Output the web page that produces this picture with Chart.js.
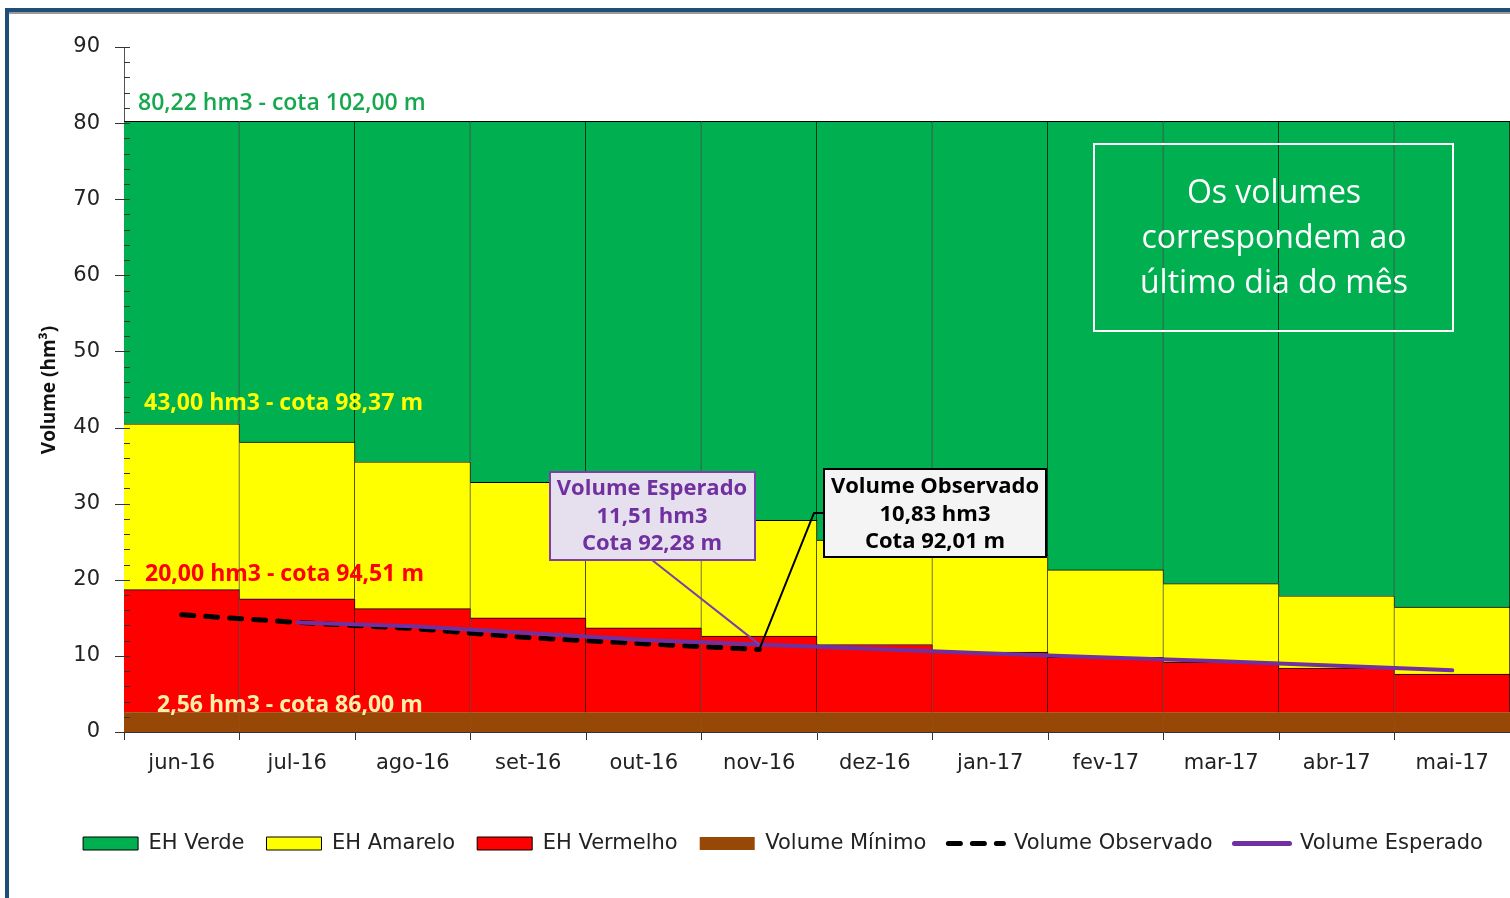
<!DOCTYPE html>
<html>
<head>
<meta charset="utf-8">
<script src="https://cdn.jsdelivr.net/npm/chart.js@4.4.1/dist/chart.umd.min.js"></script>
<style>
  html, body { margin: 0; padding: 0; background: #fff; overflow: hidden; }
</style>
</head>
<body>
<canvas id="grafico" width="1510" height="898"></canvas>
<script>
// meses
const meses = ['jun-16', 'jul-16', 'ago-16', 'set-16', 'out-16', 'nov-16', 'dez-16', 'jan-17', 'fev-17', 'mar-17', 'abr-17', 'mai-17'];
// limites das zonas (topo de cada faixa, hm3)
const volumeMinimo = [2.56, 2.56, 2.56, 2.56, 2.56, 2.56, 2.56, 2.56, 2.56, 2.56, 2.56, 2.56];
const topoVermelho = [18.7, 17.5, 16.2, 15.0, 13.7, 12.6, 11.5, 10.5, 9.8, 9.2, 8.4, 7.6];
const topoAmarelo = [40.5, 38.1, 35.5, 32.8, 30.2, 27.8, 25.2, 23.2, 21.3, 19.5, 17.9, 16.4];
const topoVerde = [80.22, 80.22, 80.22, 80.22, 80.22, 80.22, 80.22, 80.22, 80.22, 80.22, 80.22, 80.22];
// volumes
const volumeObservado = [15.4, 14.4, 13.6, 12.4, 11.6, 10.83, null, null, null, null, null, null];
const volumeEsperado = [null, 14.4, 13.9, 13.0, 12.1, 11.51, 10.9, 10.3, 9.8, 9.3, 8.7, 8.1];
// eixo y
const yMin = 0, yMax = 90, yPasso = 10, yMenor = 2;

const faixaVermelho = topoVermelho.map((v, i) => +(v - volumeMinimo[i]).toFixed(2));
const faixaAmarelo = topoAmarelo.map((v, i) => +(v - topoVermelho[i]).toFixed(2));
const faixaVerde = topoVerde.map((v, i) => +(v - topoAmarelo[i]).toFixed(2));

const barra = { type: 'bar', stack: 'zonas', barPercentage: 1, categoryPercentage: 1,
  borderColor: '#000', borderSkipped: false, borderWidth: { top: 1, right: 1, bottom: 0, left: 0 } };

const ordemLegenda = [3, 2, 1, 0, 4, 5];

const anotacoes = {
  id: 'anotacoes',
  afterDatasetsDraw(chart) {
    const { ctx, chartArea: a, scales: { y } } = chart;
    // marcas do eixo y
    ctx.save();
    ctx.strokeStyle = '#333';
    ctx.lineWidth = 1;
    for (let v = yMin; v <= yMax; v += yMenor) {
      const py = Math.round(y.getPixelForValue(v)) + 0.5;
      ctx.beginPath();
      ctx.moveTo(v % yPasso === 0 ? a.left - 9 : a.left, py);
      ctx.lineTo(a.left + 6, py);
      ctx.stroke();
    }
    ctx.restore();
  },
  afterDraw(chart) {
    const { ctx, chartArea: a, scales: { x, y } } = chart;
    ctx.save();
    ctx.textBaseline = 'middle';
    ctx.textAlign = 'left';

    ctx.font = '600 23px "Open Sans"';
    ctx.fillStyle = '#16a84e';
    ctx.fillText('80,22 hm3 - cota 102,00 m', a.left + 14, y.getPixelForValue(80.22) - 18);
    ctx.font = 'bold 23px "Open Sans"';
    ctx.fillStyle = '#ffff00';
    ctx.fillText('43,00 hm3 - cota 98,37 m', a.left + 20, y.getPixelForValue(43) - 1);
    ctx.fillStyle = '#ff0000';
    ctx.fillText('20,00 hm3 - cota 94,51 m', a.left + 21, y.getPixelForValue(20) - 5);
    ctx.fillStyle = '#fff0a8';
    ctx.fillText('2,56 hm3 - cota 86,00 m', a.left + 33, y.getPixelForValue(2.56) - 7);

    // título do eixo y
    ctx.save();
    ctx.translate(50, 390);
    ctx.rotate(-Math.PI / 2);
    ctx.textAlign = 'center';
    ctx.fillStyle = '#111';
    ctx.font = 'bold 19px "Open Sans"';
    ctx.fillText('Volume (hm³)', 0, 0);
    ctx.restore();

    // caixa de aviso
    ctx.strokeStyle = '#fff';
    ctx.lineWidth = 2;
    ctx.strokeRect(1094, 144, 359, 187);
    ctx.fillStyle = '#fff';
    ctx.textAlign = 'center';
    ctx.font = '32px "Open Sans"';
    ['Os volumes', 'correspondem ao', 'último dia do mês'].forEach((t, i) => ctx.fillText(t, 1274, 194 + i * 45));

    // chamada volume esperado
    const nx = x.getPixelForValue(5);
    ctx.strokeStyle = '#7a3fa8';
    ctx.lineWidth = 2;
    ctx.beginPath();
    ctx.moveTo(652, 560);
    ctx.lineTo(nx, y.getPixelForValue(volumeEsperado[5]));
    ctx.stroke();
    ctx.fillStyle = '#e6e0ee';
    ctx.fillRect(550, 472, 205, 88);
    ctx.strokeRect(550, 472, 205, 88);
    ctx.fillStyle = '#7030a0';
    ctx.font = 'bold 22px "Open Sans"';
    ['Volume Esperado', '11,51 hm3', 'Cota 92,28 m'].forEach((t, i) => ctx.fillText(t, 652, 489 + i * 27.5));

    // chamada volume observado
    ctx.strokeStyle = '#000';
    ctx.lineWidth = 2;
    ctx.beginPath();
    ctx.moveTo(nx, y.getPixelForValue(volumeObservado[5]));
    ctx.lineTo(814, 513);
    ctx.lineTo(824, 513);
    ctx.stroke();
    ctx.fillStyle = '#f4f4f4';
    ctx.fillRect(824, 469, 222, 88);
    ctx.strokeRect(824, 469, 222, 88);
    ctx.fillStyle = '#000';
    ['Volume Observado', '10,83 hm3', 'Cota 92,01 m'].forEach((t, i) => ctx.fillText(t, 935, 487 + i * 27.5));

    // moldura
    ctx.fillStyle = '#1f4e79';
    ctx.fillRect(5, 8, 1505, 4);
    ctx.fillRect(5, 8, 4, 890);
    ctx.fillStyle = '#9a9a9a';
    ctx.fillRect(9, 12, 1501, 2);
    ctx.restore();
  }
};

new Chart(document.getElementById('grafico'), {
  data: {
    labels: meses,
    datasets: [
      { ...barra, label: 'Volume Mínimo', data: volumeMinimo, backgroundColor: '#974806', borderWidth: 0, order: 2 },
      { ...barra, label: 'EH Vermelho', data: faixaVermelho, backgroundColor: '#ff0000', order: 3 },
      { ...barra, label: 'EH Amarelo', data: faixaAmarelo, backgroundColor: '#ffff00', order: 4 },
      { ...barra, label: 'EH Verde', data: faixaVerde, backgroundColor: '#00b050', order: 5 },
      { type: 'line', label: 'Volume Observado', data: volumeObservado, stack: 'obs', borderColor: '#000',
        borderWidth: 5, borderDash: [12, 12], borderCapStyle: 'round', pointRadius: 0, order: 1 },
      { type: 'line', label: 'Volume Esperado', data: volumeEsperado, stack: 'esp', borderColor: '#7030a0',
        borderWidth: 4, borderCapStyle: 'round', pointRadius: 0, order: 0 }
    ]
  },
  options: {
    responsive: false,
    animation: false,
    layout: { padding: { top: 47, left: 56, right: 0, bottom: 34 } },
    plugins: {
      tooltip: { enabled: false },
      legend: {
        position: 'bottom',
        labels: {
          usePointStyle: true, pointStyleWidth: 55, boxWidth: 55, boxHeight: 13, padding: 22,
          color: '#222', font: { family: 'DejaVu Sans', size: 21 },
          generateLabels(chart) {
            return ordemLegenda.map(i => {
              const ds = chart.data.datasets[i];
              const linha = ds.type === 'line';
              return {
                text: ds.label, datasetIndex: i, hidden: false, fontColor: '#222',
                fillStyle: linha ? ds.borderColor : ds.backgroundColor,
                strokeStyle: ds.borderColor,
                lineWidth: linha ? 5 : (ds.borderWidth === 0 ? 0 : 1),
                lineCap: linha ? 'round' : 'butt',
                lineDash: ds.borderDash || [],
                pointStyle: linha ? 'line' : 'rect'
              };
            });
          }
        }
      }
    },
    scales: {
      x: {
        stacked: true,
        grid: { offset: true, drawOnChartArea: false, tickLength: 8, color: '#333' },
        border: { color: '#333' },
        ticks: { padding: 11, color: '#222', font: { family: 'DejaVu Sans', size: 21 } },
        afterFit(s) { s.height = 79; }
      },
      y: {
        stacked: true, min: yMin, max: yMax,
        grid: { display: false },
        border: { color: '#555' },
        ticks: { stepSize: yPasso, padding: 16, color: '#222', font: { family: 'DejaVu Sans', size: 21 } },
        afterFit(s) { s.width = 68; }
      }
    }
  },
  plugins: [anotacoes]
});
</script>
</body>
</html>
